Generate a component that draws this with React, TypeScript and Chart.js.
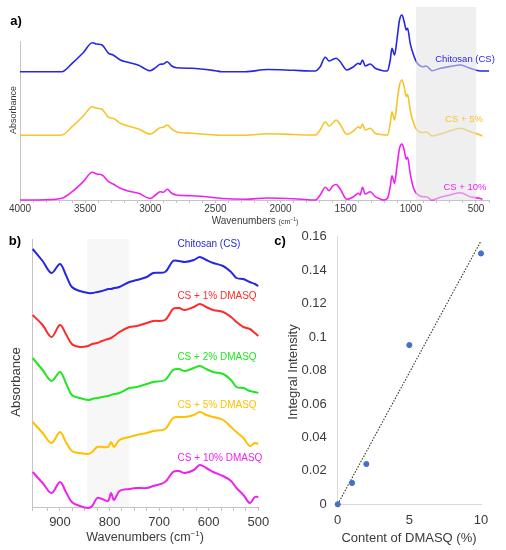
import React, { useEffect, useRef } from 'react';
import Chart from 'chart.js/auto';

const FONT = '"Liberation Sans", Arial, Helvetica, sans-serif';
const TEXT = '#3a3a3a';
const AXIS = '#c4c4c4';

const BLUE = '#2626e4';
const GOLD = '#f6c42a';
const MAGENTA = '#ee22ee';
const RED = '#ff2a2a';
const GREEN = '#22e622';
const AMBER = '#ffc000';
const DOT = '#4472c4';

// a) full FTIR spectra, stacked (arbitrary absorbance units)
const WAVE_A = [
  4000, 3800, 3680, 3600, 3515, 3445, 3410, 3370, 3320, 3285, 3230, 3170, 3090, 3000, 2960,
  2925, 2900, 2870, 2835, 2800, 2680, 2500, 2450, 2270, 2100, 1900, 1750, 1735, 1696, 1657,
  1627, 1600, 1573, 1542, 1491, 1440, 1402, 1389, 1371, 1350, 1312, 1273, 1235, 1205, 1179,
  1158, 1145, 1125, 1107, 1087, 1068, 1051, 1035, 1025, 1005, 979, 953, 902, 882, 838, 774,
  700, 620, 544, 467, 450, 400,
];
const CS_A = [
  128.3, 128.3, 128.3, 136.7, 147.3, 157.3, 156, 155, 146.7, 145, 140, 137.7, 134.7, 129.3, 132.3,
  135.7, 136, 138.3, 134, 132.3, 131.7, 129.3, 128.3, 128.3, 130.5, 129.7, 129, 129, 133.3, 142.7,
  139, 140.5, 141.7, 138.3, 130, 133.3, 136.7, 135.7, 140, 134, 136, 131.7, 130, 129, 129.3,
  140, 151.7, 145, 160, 180, 185, 178.3, 170, 171.7, 156.7, 145, 137.3, 133.3, 134, 129.3, 131.7,
  133.5, 135, 131.7, 129, 129, 129,
];
const CS5_A = [
  64.7, 64.7, 65, 73.3, 84, 93.3, 91.7, 90.7, 82.7, 81.7, 76.7, 74, 71, 66, 69,
  72.3, 72.7, 75, 71, 68.3, 66.7, 65, 64.7, 64.7, 66.3, 65.5, 65, 65, 70, 78.3,
  74, 77, 80, 75.5, 65.7, 69, 73.3, 71.7, 76, 70, 71.7, 66.7, 65.5, 65, 65,
  76.7, 88.3, 80, 96.7, 115, 120, 113.3, 103.3, 105.7, 90, 76.7, 70, 67.3, 68.3, 64, 66,
  69, 71.7, 68.3, 65, 64, null,
];
const CS10_A = [
  0, 0.3, 1.7, 8.3, 18.3, 27.7, 26, 25, 18.3, 16, 11.7, 9, 6.7, 1.7, 5,
  8.3, 7.7, 10.7, 6.7, 5, 4.3, 2.3, 1.5, 0.7, 2, 1.3, 0, 0, 5, 12.7,
  9.3, 14, 15.5, 11, 0.7, 3.3, 6.7, 5, 12.7, 6, 8.3, 3.3, 1, 0, 1.7,
  13.3, 24.3, 16.7, 33.3, 51.7, 56, 50, 40.7, 42.7, 26.7, 11.7, 6, 3.3, 3.3, 0, 2.7,
  5, 7.3, 3.3, 1.5, 0.7, null,
];
const SHADE_A = [960, 498];

// b) 950-500 cm-1 detail
const WAVE_B = [
  955, 935, 917, 900, 888, 876, 860, 843, 835, 825, 815, 803, 797, 791, 780, 760, 745,
  725, 712, 688, 672, 660, 648, 630, 618, 605, 591, 571, 555, 544, 530, 517, 507, 500,
];
const CS_B = [
  258, 246, 234, 243, 232, 220, 216, 214, 214, 215, 216, 218, 218, 219, 220, 225, 227,
  230, 234, 235, 246, 246, 245, 247, 250, 247, 244, 241, 235, 229, 228, 225, 223, 221,
];
const CS1_B = [
  192, 182, 170, 182, 173, 163, 160, 161, 163, 164, 166, 168, 169, 171, 175, 180, 181,
  184, 186, 187, 198, 199, 197, 200, 203, 200, 197, 195, 190, 185, 180, 178, 174, 171,
];
const CS2_B = [
  149, 137, 126, 135, 124, 112, 109, 107, 108, 109, 110, 111, 112, 113, 114, 119, 120,
  123, 125, 127, 137, 138, 136, 139, 141, 138, 135, 133, 127, 120, 119, 116, 115, 114,
];
const CS5_B = [
  85, 74, 64, 75, 65, 56, 54, 53, 55, 60, 60, 60, 65, 60, 67, 70, 72,
  74, 76, 78, 89, 90, 90, 92, 95, 92, 90, 87, 80, 75, 69, 61, 64, 63,
];
const CS10_B = [
  35, 24, 14, 25, 15, 5, 1, -1, 1, 9, 8, 6, 14, 7, 16, 18, 19,
  19, 21, 25, 35, 36, 34, 37, 42, 39, 35, 31, 26, 19, 12, 4, 10, 10,
];
const SHADE_B = [845, 760];

// c) integral intensity vs DMASQ content
const CONTENT = [0, 1, 2, 5, 10];
const INTENSITY = [0, 0.0128, 0.0241, 0.0952, 0.15];
const TREND_X = [0, 10];
const TREND_Y = [0, 0.1575];

type Pt = { x: number; y: number };
const pts = (xs: number[], ys: (number | null)[]): Pt[] =>
  xs.flatMap((x, i) => (ys[i] === null ? [] : [{ x, y: ys[i] as number }]));

const tickFont = (size: number) => ({ family: FONT, size });

const line = (data: Pt[], color: string, width: number, smooth: 'monotone' | number) => ({
  data,
  borderColor: color,
  borderWidth: width,
  pointRadius: 0,
  ...(smooth === 'monotone' ? { cubicInterpolationMode: 'monotone' } : { tension: smooth }),
  clip: false,
  fill: false,
});

// fixed axis boxes, so label overhang does not move the plot area
const fixX = (h: number) => (s: any) => {
  s.height = h;
  s.paddingLeft = 0;
  s.paddingRight = 0;
};
const fixY = (w: number) => (s: any) => {
  s.width = w;
  s.paddingTop = 0;
  s.paddingBottom = 0;
};

const fadeBandA = {
  id: 'fadeBandA',
  afterDatasetsDraw(chart: any) {
    const { ctx, scales } = chart;
    const x0 = scales.x.getPixelForValue(SHADE_A[0]);
    const x1 = scales.x.getPixelForValue(SHADE_A[1]);
    const top = scales.y.getPixelForValue(193);
    const bottom = scales.y.getPixelForValue(0);
    ctx.save();
    ctx.fillStyle = 'rgba(226,226,226,0.55)';
    ctx.fillRect(x0, top, x1 - x0, bottom - top);
    ctx.restore();
  },
};

const bandB = {
  id: 'bandB',
  beforeDatasetsDraw(chart: any) {
    const { ctx, scales, chartArea } = chart;
    const x0 = scales.x.getPixelForValue(SHADE_B[0]);
    const x1 = scales.x.getPixelForValue(SHADE_B[1]);
    ctx.save();
    ctx.fillStyle = '#f7f7f7';
    ctx.fillRect(x0, chartArea.top, x1 - x0, chartArea.bottom - chartArea.top);
    ctx.restore();
  },
};

const makeA = (): any => ({
  type: 'line',
  data: {
    datasets: [
      line(pts(WAVE_A, CS_A), BLUE, 1.6, 'monotone'),
      line(pts(WAVE_A, CS5_A), GOLD, 1.6, 'monotone'),
      line(pts(WAVE_A, CS10_A), MAGENTA, 1.6, 'monotone'),
    ],
  },
  options: {
    animation: false,
    responsive: true,
    maintainAspectRatio: false,
    layout: { padding: { left: 20, right: 17, top: 41.7, bottom: 0 } },
    plugins: { legend: { display: false }, tooltip: { enabled: false } },
    scales: {
      x: {
        type: 'linear',
        reverse: true,
        min: 400,
        max: 4000,
        ticks: {
          stepSize: 100,
          autoSkip: false,
          maxRotation: 0,
          padding: 0,
          color: TEXT,
          font: tickFont(10),
          callback: (v: number) => (v % 500 === 0 ? String(v) : ''),
        },
        grid: { drawOnChartArea: false, drawTicks: true, tickLength: 3, color: AXIS },
        border: { display: true, color: AXIS },
        afterFit: fixX(30),
      },
      y: {
        min: 0,
        max: 158.3,
        ticks: { display: false },
        grid: { display: false },
        border: { display: true, color: AXIS },
        afterFit: fixY(0),
      },
    },
  },
  plugins: [fadeBandA],
});

const makeB = (): any => ({
  type: 'line',
  data: {
    datasets: [
      line(pts(WAVE_B, CS_B), BLUE, 2, 0.35),
      line(pts(WAVE_B, CS1_B), RED, 2, 0.35),
      line(pts(WAVE_B, CS2_B), GREEN, 2, 0.35),
      line(pts(WAVE_B, CS5_B), AMBER, 2, 0.35),
      line(pts(WAVE_B, CS10_B), MAGENTA, 2, 0.35),
    ],
  },
  options: {
    animation: false,
    responsive: true,
    maintainAspectRatio: false,
    layout: { padding: { left: 32.7, right: 11.7, top: 9, bottom: 0 } },
    plugins: { legend: { display: false }, tooltip: { enabled: false } },
    scales: {
      x: {
        type: 'linear',
        reverse: true,
        min: 500,
        max: 955,
        ticks: {
          stepSize: 25,
          autoSkip: false,
          maxRotation: 0,
          padding: 4,
          color: TEXT,
          font: tickFont(13),
          callback: (v: number) => (v % 100 === 0 ? String(v) : ''),
        },
        grid: { drawOnChartArea: false, drawTicks: true, tickLength: 4, color: AXIS },
        border: { display: true, color: AXIS },
        afterFit: fixX(43),
      },
      y: {
        min: 0,
        max: 268,
        ticks: { display: false },
        grid: { display: false },
        border: { display: true, color: AXIS },
        afterFit: fixY(0),
      },
    },
  },
  plugins: [bandB],
});

const makeC = (): any => ({
  type: 'scatter',
  data: {
    datasets: [
      {
        data: pts(CONTENT, INTENSITY),
        backgroundColor: DOT,
        borderColor: DOT,
        pointRadius: 2.6,
        clip: false,
      },
      {
        data: pts(TREND_X, TREND_Y),
        showLine: true,
        borderColor: '#333333',
        borderWidth: 1.1,
        borderDash: [1.5, 1.5],
        pointRadius: 0,
        clip: false,
      },
    ],
  },
  options: {
    animation: false,
    responsive: true,
    maintainAspectRatio: false,
    layout: { padding: { left: 0, right: 25, top: 6.7, bottom: 0 } },
    plugins: { legend: { display: false }, tooltip: { enabled: false } },
    scales: {
      x: {
        type: 'linear',
        min: 0,
        max: 10,
        ticks: { stepSize: 5, padding: 8, color: TEXT, font: tickFont(13), maxRotation: 0 },
        grid: { display: false, drawTicks: false },
        border: { display: true, color: '#d9d9d9' },
        afterFit: fixX(45.7),
      },
      y: {
        min: 0,
        max: 0.16,
        ticks: {
          stepSize: 0.02,
          padding: 11,
          color: TEXT,
          font: tickFont(13),
          callback: (v: number) => String(+v.toFixed(2)),
        },
        grid: { display: false, drawTicks: false },
        border: { display: true, color: '#d9d9d9' },
        afterFit: fixY(87.7),
      },
    },
  },
});

type PanelProps = { left: number; top: number; width: number; height: number; make: () => any };

const Panel: React.FC<PanelProps> = ({ left, top, width, height, make }) => {
  const ref = useRef<HTMLCanvasElement>(null);
  useEffect(() => {
    if (!ref.current) return;
    const chart = new Chart(ref.current, make());
    return () => chart.destroy();
  }, [make]);
  return (
    <div style={{ position: 'absolute', left, top, width, height }}>
      <canvas ref={ref} />
    </div>
  );
};

type TxtProps = {
  x: number;
  y: number;
  size: number;
  color?: string;
  bold?: boolean;
  rotate?: boolean;
  children: React.ReactNode;
};

const Txt: React.FC<TxtProps> = ({ x, y, size, color = TEXT, bold, rotate, children }) => (
  <div
    style={{
      position: 'absolute',
      left: x,
      top: y,
      transform: `translate(-50%, -50%)${rotate ? ' rotate(-90deg)' : ''}`,
      fontFamily: FONT,
      fontSize: size,
      fontWeight: bold ? 700 : 400,
      color,
      whiteSpace: 'nowrap',
      lineHeight: 1,
    }}
  >
    {children}
  </div>
);

const App: React.FC = () => (
  <div style={{ position: 'absolute', left: 0, top: 0, width: 506, height: 550, background: '#fff', overflow: 'hidden' }}>
    <Panel left={0} top={0} width={506} height={230} make={makeA} />
    <Panel left={0} top={230} width={270} height={320} make={makeB} />
    <Panel left={250} top={230} width={256} height={320} make={makeC} />

    <Txt x={16} y={20} size={13} color="#000" bold>a)</Txt>
    <Txt x={13} y={110} size={9} rotate>Absorbance</Txt>
    <Txt x={255} y={221} size={10}>
      Wavenumbers <span style={{ fontSize: 7 }}>(cm<span style={{ verticalAlign: 'super', fontSize: 5 }}>−1</span>)</span>
    </Txt>
    <Txt x={465} y={59} size={9.5} color={BLUE}>Chitosan (CS)</Txt>
    <Txt x={464} y={119} size={9.5} color={GOLD}>CS + 5%</Txt>
    <Txt x={465} y={187} size={9.5} color={MAGENTA}>CS + 10%</Txt>

    <Txt x={15} y={240} size={13} color="#000" bold>b)</Txt>
    <Txt x={15} y={382} size={13} rotate>Absorbance</Txt>
    <Txt x={145} y={537} size={12.5}>
      Wavenumbers (cm<span style={{ verticalAlign: 'super', fontSize: 8 }}>−1</span>)
    </Txt>
    <Txt x={209} y={244} size={10} color={BLUE}>Chitosan (CS)</Txt>
    <Txt x={217} y={296} size={10} color={RED}>CS + 1% DMASQ</Txt>
    <Txt x={217} y={357} size={10} color={GREEN}>CS + 2% DMASQ</Txt>
    <Txt x={217} y={405} size={10} color={AMBER}>CS + 5% DMASQ</Txt>
    <Txt x={220} y={458} size={10} color={MAGENTA}>CS + 10% DMASQ</Txt>

    <Txt x={280} y={240} size={13} color="#000" bold>c)</Txt>
    <Txt x={292} y={372} size={13} rotate>Integral Intensity</Txt>
    <Txt x={409} y={537} size={13}>Content of DMASQ (%)</Txt>
  </div>
);

export default App;
